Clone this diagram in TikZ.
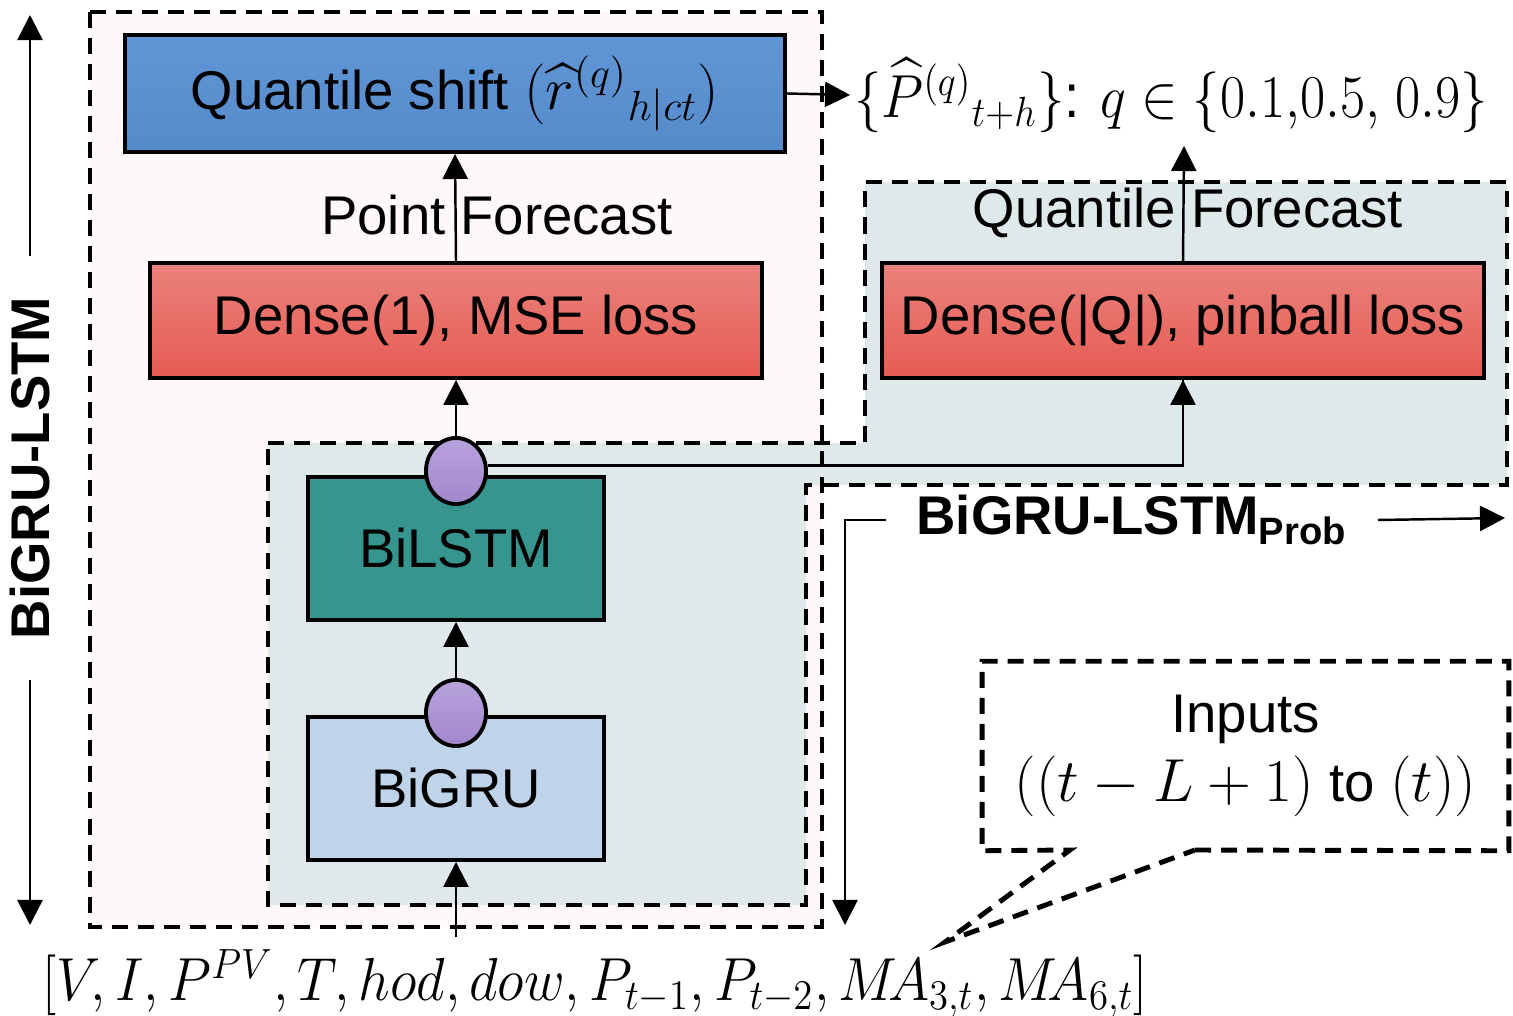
\documentclass[tikz,border=0pt]{standalone}
\usepackage{amsmath,amssymb}
\usepackage{fontspec}
\setmainfont{Liberation Sans}
\usepackage{tikz}
\usetikzlibrary{positioning,arrows.meta,shapes.geometric}
\definecolor{shifttop}{HTML}{6096D6}
\definecolor{shiftblue}{HTML}{558ACB}
\definecolor{densetop}{HTML}{EA827C}
\definecolor{densered}{HTML}{E65B53}
\definecolor{lstmteal}{HTML}{36958F}
\definecolor{grublue}{HTML}{C0D4E9}
\definecolor{gatetop}{HTML}{B7A2DC}
\definecolor{gatepurple}{HTML}{A287CC}
\definecolor{pinkwash}{HTML}{FEF9F8}
\definecolor{probwash}{HTML}{DFE9EA}

\begin{document}
\begin{tikzpicture}[x=0.01cm,y=-0.01cm,font=\fontsize{15.5}{19}\selectfont,
  layer/.style={draw=black,line width=1.1pt,inner sep=0pt},
  gate/.style={ellipse,draw=black,line width=1.1pt,top color=gatetop,bottom color=gatepurple,
    minimum width=0.6cm,minimum height=0.66cm,inner sep=0pt},
  dbox/.style={dash pattern=on 0.16cm off 0.1cm,line width=1.4pt},
  arr/.style={-{Triangle[length=0.25cm,width=0.25cm]},line width=0.7pt}]
\useasboundingbox (0,0) rectangle (1513,1016);

% group outlines
\fill[pinkwash] (90,12) rectangle (822,927);
\fill[probwash] (268,443) -- (865,443) -- (865,182) -- (1507,182) -- (1507,485)
  -- (806,485) -- (806,905) -- (268,905) -- cycle;
\draw[dbox] (90,12) rectangle (822,927);
\draw[dbox] (268,443) -- (865,443) -- (865,182) -- (1507,182) -- (1507,485)
  -- (806,485) -- (806,905) -- (268,905) -- cycle;

% layers
\node[layer,top color=shifttop,bottom color=shiftblue,minimum width=6.6cm,minimum height=1.17cm]
  (shift) at (455,93.5) {Quantile shift {\fontsize{18}{19}\selectfont$(\widehat{r}^{(q)}{}_{h|ct})$}};
\node[layer,top color=densetop,bottom color=densered,minimum width=6.12cm,minimum height=1.15cm]
  (dense1) at (456,320.5) {Dense(1), MSE loss};
\node[layer,top color=densetop,bottom color=densered,minimum width=6.02cm,minimum height=1.15cm]
  (denseq) at (1183,320.5) {Dense(|Q|), pinball loss};
\node[layer,fill=lstmteal,minimum width=2.96cm,minimum height=1.43cm]
  (bilstm) at (456,548.5) {BiLSTM};
\node[layer,fill=grublue,minimum width=2.96cm,minimum height=1.43cm]
  (bigru) at (456,788.5) {BiGRU};
\node[gate] (gate1) at (456,471) {};
\node[gate] (gate2) at (456,713) {};

% labels
\node (pf) at (497,215) {Point Forecast};
\node (qf) at (1188,213) {Quantile Forecast};
\node[anchor=west,inner sep=1pt,font=\fontsize{17.5}{20}\selectfont] (out) at (850,95)
  {\scalebox{0.9}[1]{$\{\widehat{P}^{(q)}{}_{t+h}\}$: $q\in\{0.1{,}0.5{,}\ 0.9\}$}};
\node[font=\fontsize{17.5}{22}\selectfont] (feat) at (595,984)
  {\scalebox{0.92}[1]{$[V,I,P^{PV},T,hod,dow,P_{t-1},P_{t-2},M\!A_{3,t},M\!A_{6,t}]$}};
\node[rotate=90,font=\fontsize{15.5}{19}\bfseries,inner sep=0.4cm] (lstm) at (30,468) {BiGRU-LSTM};
\node[font=\fontsize{15.5}{19}\bfseries,inner sep=0.3cm] (prob) at (1132,520) {BiGRU-LSTM\textsubscript{Prob}};
\node[align=center,minimum width=5.25cm,minimum height=1.88cm,font=\fontsize{15.5}{19.5}\selectfont]
  (inputs) at (1245.5,756) {Inputs\\{\fontsize{17}{19}\selectfont$((t-L+1)$} to {\fontsize{17}{19}\selectfont$(t))$}};

\coordinate (qtip) at (1184,146);
\coordinate (ltop) at (30,15);
\coordinate (lbot) at (30,925);
\coordinate (pdown) at (845,925);
\coordinate (pright) at (1505,518);
\coordinate (callA) at (1070,850);
\coordinate (callB) at (1195,850);
\coordinate (calltip) at (945,942);

% connectors
\draw[arr] (shift.east) -- (out.west);
\draw[arr] (dense1.north) -- (shift.south);
\draw[arr] (gate1.north) -- (dense1.south);
\draw[arr] (gate2.north) -- (bilstm.south);
\draw[arr] (bigru.south |- feat.north) -- (bigru.south);
\draw[line width=0.7pt] (gate1.10) -| (denseq.south);
\draw[arr] (denseq.south |- gate1.10) -- (denseq.south);
\draw[arr] (denseq.north) -- (qtip);
\draw[arr] (lstm.east) -- (ltop);
\draw[arr] (lstm.west) -- (lbot);
\draw[arr] (prob.west) -| (pdown);
\draw[arr] (prob.east) -- (pright);
\draw[dbox] (callB) -- (inputs.south east) -- (inputs.north east) -- (inputs.north west)
  -- (inputs.south west) -- (callA) -- (calltip) -- cycle;
\end{tikzpicture}
\end{document}
